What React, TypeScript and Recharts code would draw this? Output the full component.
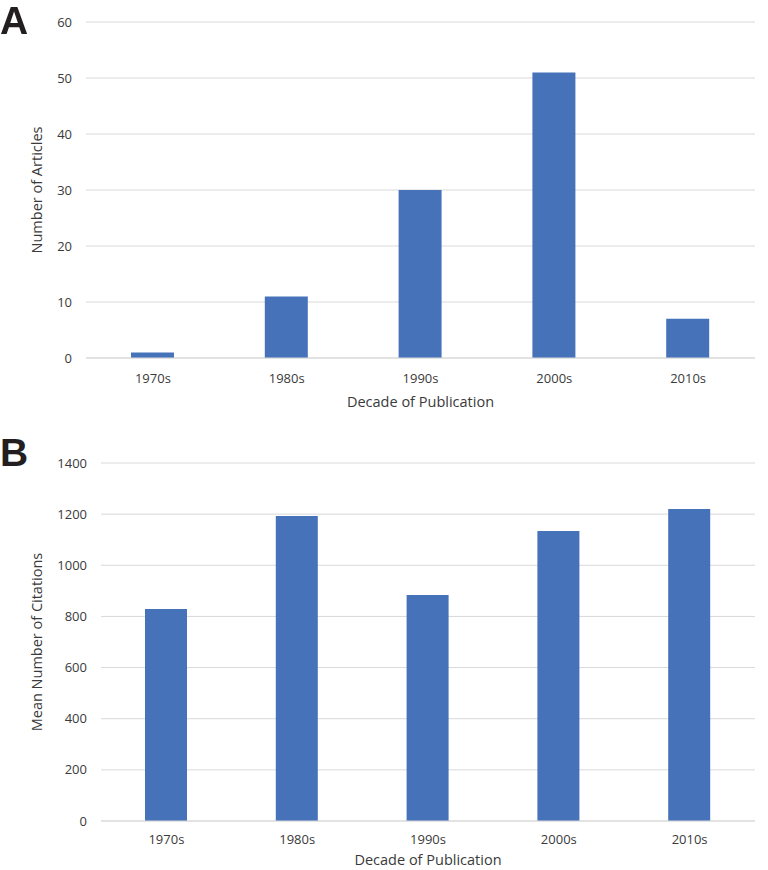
import React from 'react';
import { Bar, BarChart, CartesianGrid, XAxis, YAxis } from 'recharts';

const decades = ['1970s', '1980s', '1990s', '2000s', '2010s'];
const articleCounts = [1, 11, 30, 51, 7];
const meanCitations = [829, 1193, 884, 1134, 1220];
const articleTicks = [0, 10, 20, 30, 40, 50, 60];
const citationTicks = [0, 200, 400, 600, 800, 1000, 1200, 1400];

const articlesData = decades.map((decade, i) => ({ decade, value: articleCounts[i] }));
const citationsData = decades.map((decade, i) => ({ decade, value: meanCitations[i] }));

const FONT = '"Open Sans", sans-serif';
const BLUE = '#4672BA';
const GRID = '#d9d9d9';
const TEXT = '#3a3a3a';

const tickStyle = { fill: TEXT, fontSize: 13, fontFamily: FONT };
const titleStyle = { fill: TEXT, fontSize: 14.5, fontFamily: FONT };
const panelLetter = { position: 'absolute' as const, left: 0, fontSize: 39, fontWeight: 700, fontFamily: '"Liberation Sans", Arial, sans-serif', color: '#231f20', lineHeight: '39px' };

const App: React.FC = () => {
  return (
    <div style={{ position: 'fixed', left: 0, top: 0, width: 768, height: 870, background: '#fff' }}>
      <div style={{ position: 'absolute', left: 0, top: 0 }}>
        <BarChart width={768} height={420} data={articlesData} margin={{ top: 22, right: 13, left: 0, bottom: 0 }}>
          <CartesianGrid stroke={GRID} vertical={false} />
          <XAxis
            dataKey="decade"
            height={62}
            tickLine={false}
            axisLine={{ stroke: GRID }}
            tick={tickStyle}
            tickMargin={10}
            label={{ value: 'Decade of Publication', position: 'insideBottom', offset: 13, style: titleStyle }}
          />
          <YAxis
            width={86}
            domain={[0, 60]}
            ticks={articleTicks}
            tickLine={false}
            axisLine={false}
            tick={tickStyle}
            tickMargin={8}
            label={{ value: 'Number of Articles', angle: -90, position: 'insideLeft', offset: 37, style: { ...titleStyle, textAnchor: 'middle' } }}
          />
          <Bar dataKey="value" fill={BLUE} barSize={43} isAnimationActive={false} />
        </BarChart>
      </div>

      <div style={{ position: 'absolute', left: 0, top: 441 }}>
        <BarChart width={768} height={429} data={citationsData} margin={{ top: 22, right: 13, left: 0, bottom: 0 }}>
          <CartesianGrid stroke={GRID} vertical={false} />
          <XAxis
            dataKey="decade"
            height={49}
            tickLine={false}
            axisLine={{ stroke: GRID }}
            tick={tickStyle}
            tickMargin={8}
            label={{ value: 'Decade of Publication', position: 'insideBottom', offset: 5, style: titleStyle }}
          />
          <YAxis
            width={101}
            domain={[0, 1400]}
            ticks={citationTicks}
            tickLine={false}
            axisLine={false}
            tick={tickStyle}
            tickMargin={8}
            label={{ value: 'Mean Number of Citations', angle: -90, position: 'insideLeft', offset: 37, style: { ...titleStyle, textAnchor: 'middle' } }}
          />
          <Bar dataKey="value" fill={BLUE} barSize={42} isAnimationActive={false} />
        </BarChart>
      </div>

      <div style={{ ...panelLetter, top: 1 }}>A</div>
      <div style={{ ...panelLetter, top: 433 }}>B</div>
    </div>
  );
};

export default App;
